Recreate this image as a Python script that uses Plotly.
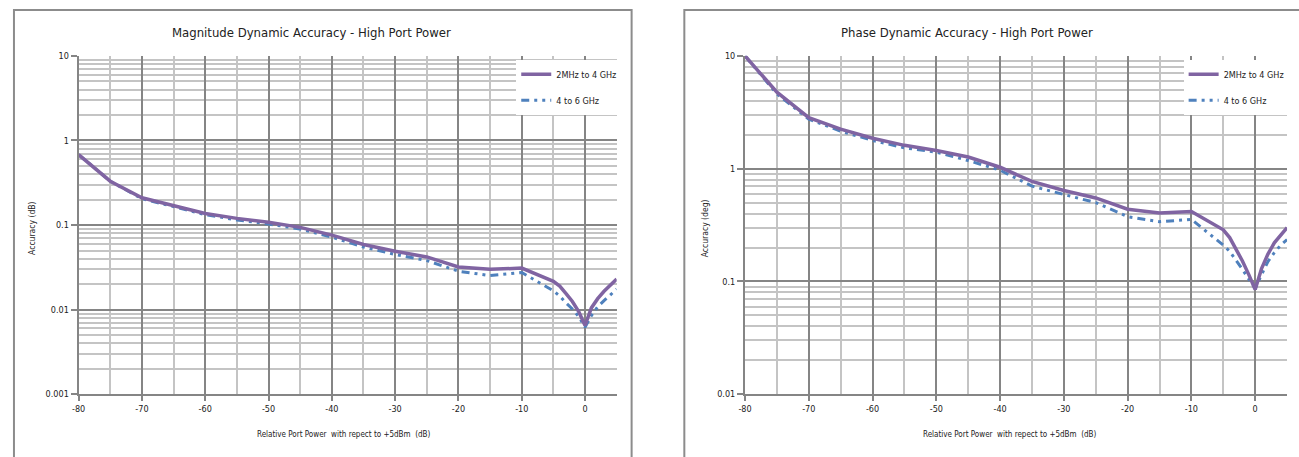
import math

import plotly.graph_objects as go
from plotly.subplots import make_subplots

# relative port power (dB) with respect to +5 dBm
power_db = [-80, -75, -70, -65, -60, -55, -50, -45, -40, -35, -30, -25, -20, -15, -10,
            -5, -4, -3, -2, -1, 0, 1, 2, 3, 4, 5]

# magnitude dynamic accuracy (dB)
mag_2mhz_4ghz = [0.68, 0.33, 0.21, 0.17, 0.137, 0.12, 0.108, 0.094, 0.076, 0.059, 0.049, 0.042, 0.032,
                 0.030, 0.031, 0.0216, 0.019, 0.0155, 0.0125, 0.0095, 0.0065, 0.0105, 0.0135, 0.0165,
                 0.0195, 0.023]
mag_4_6ghz = [0.68, 0.33, 0.205, 0.165, 0.133, 0.115, 0.103, 0.09, 0.072, 0.055, 0.045, 0.038, 0.0285,
              0.0253, 0.0275, 0.0167, 0.0145, 0.012, 0.0102, 0.0083, 0.0062, 0.0085, 0.0108, 0.0128,
              0.015, 0.0175]

# phase dynamic accuracy (deg)
phase_2mhz_4ghz = [10, 4.76, 2.83, 2.24, 1.86, 1.61, 1.45, 1.27, 1.03, 0.77, 0.64, 0.55, 0.437, 0.404,
                   0.417, 0.287, 0.245, 0.195, 0.152, 0.115, 0.085, 0.13, 0.175, 0.22, 0.26, 0.30]
phase_4_6ghz = [10, 4.6, 2.75, 2.15, 1.78, 1.53, 1.4, 1.18, 0.97, 0.70, 0.59, 0.50, 0.375, 0.339, 0.355,
                0.21, 0.185, 0.155, 0.128, 0.105, 0.087, 0.115, 0.15, 0.18, 0.21, 0.235]

series_names = ['2MHz to 4 GHz', '4 to 6 GHz']
x_ticks = [-80, -70, -60, -50, -40, -30, -20, -10, 0]
x_ticktext = ['-80', '-70', '-60', '-50', '-40', '-30', '-20', '-10', '0']
mag_ticks = [0.001, 0.01, 0.1, 1, 10]
mag_ticktext = ['0.001', '0.01', '0.1', '1', '10']
phase_ticks = [0.01, 0.1, 1, 10]
phase_ticktext = ['0.01', '0.1', '1', '10']

FONT = 'Liberation Sans Narrow, DejaVu Sans Condensed, Arial Narrow, Liberation Sans, sans-serif'
W, H = 1299, 457
PURPLE = '#8064a2'
BLUE = '#4f81bd'
MAJOR = '#858585'
MINOR = '#c4c4c4'


def px(x):
    return x / W


def py(y):
    return 1 - y / H


def accuracy_panel(fig, col, y_wide, y_high, legend, ticks, ticktext):
    """one Excel style log chart of dynamic accuracy"""
    # blue first so that the purple line sits on top
    fig.add_trace(go.Scatter(x=power_db, y=y_high, mode='lines', name=series_names[1],
                             line=dict(color=BLUE, width=3, dash='8px,5px,3px,5px,3px,5px'),
                             legend=legend, legendrank=2, legendgroup='b'), row=1, col=col)
    fig.add_trace(go.Scatter(x=power_db, y=y_wide, mode='lines', name=series_names[0],
                             line=dict(color=PURPLE, width=3.5),
                             legend=legend, legendrank=1, legendgroup='a'), row=1, col=col)

    fig.update_xaxes(range=[-80, 5], tickvals=x_ticks, ticktext=x_ticktext,
                     showgrid=True, gridcolor=MAJOR, gridwidth=2,
                     minor=dict(tick0=0, dtick=5, showgrid=True, gridcolor=MINOR, gridwidth=2),
                     showline=True, linecolor=MAJOR, linewidth=2, ticks='outside', ticklen=5,
                     tickcolor=MAJOR, tickwidth=1.5, zeroline=False,
                     tickfont=dict(size=9, color='#222'), row=1, col=col)
    fig.update_yaxes(type='log', range=[math.log10(ticks[0]), math.log10(ticks[-1])],
                     tickvals=ticks, ticktext=ticktext, showgrid=True, gridcolor=MAJOR, gridwidth=2,
                     minor=dict(dtick='D1', showgrid=True, gridcolor=MINOR, gridwidth=1.5),
                     showline=True, linecolor=MAJOR, linewidth=2, ticks='outside', ticklen=6,
                     tickcolor=MAJOR, tickwidth=1.5, zeroline=False,
                     tickfont=dict(size=9, color='#222'), row=1, col=col)
    return fig


fig = make_subplots(rows=1, cols=2)
accuracy_panel(fig, 1, mag_2mhz_4ghz, mag_4_6ghz, 'legend', mag_ticks, mag_ticktext)
accuracy_panel(fig, 2, phase_2mhz_4ghz, phase_4_6ghz, 'legend2', phase_ticks, phase_ticktext)

# plot areas in pixels of the 1299x457 page
fig.update_layout(
    xaxis=dict(domain=[px(72), px(613)]),
    xaxis2=dict(domain=[px(742), px(1287)]),
    yaxis=dict(domain=[py(398), py(52)]),
    yaxis2=dict(domain=[py(398), py(52)]),
)

legend_style = dict(bgcolor='white', borderwidth=0, font=dict(family=FONT, size=9, color='#222'),
                    yanchor='top', xanchor='left', tracegroupgap=7, itemwidth=30)
fig.update_layout(
    legend=dict(legend_style, x=px(512), y=py(56)),
    legend2=dict(legend_style, x=px(1183), y=py(56)),
)

# chart borders
for x0, x1 in [(px(7), px(628)), (px(681), 1.1)]:
    fig.add_shape(type='rect', xref='paper', yref='paper', x0=x0, x1=x1, y0=-0.1, y1=py(5),
                  line=dict(color='#8c8c8c', width=2), fillcolor='rgba(0,0,0,0)', layer='below')

titles = [
    ('Magnitude Dynamic Accuracy - High Port Power', 306, 28, 13, 0),
    ('Phase Dynamic Accuracy - High Port Power', 965, 28, 13, 0),
    ('Accuracy (dB)', 25, 228, 8.5, -90),
    ('Accuracy (deg)', 702, 228, 8.5, -90),
    ('Relative Port Power  with repect to +5dBm  (dB)', 338, 439, 8, 0),
    ('Relative Port Power  with repect to +5dBm  (dB)', 1008, 439, 8, 0),
]
for text, x, y, size, angle in titles:
    fig.add_annotation(text=text, x=px(x), y=py(y), xref='paper', yref='paper', showarrow=False,
                       textangle=angle, xanchor='center', yanchor='middle',
                       font=dict(family=FONT, size=size, color='#222'))

fig.update_layout(
    width=W, height=H, autosize=False,
    margin=dict(l=0, r=0, t=0, b=0),
    paper_bgcolor='white', plot_bgcolor='white',
    font=dict(family=FONT, size=9, color='#222'),
    showlegend=True,
)

# no page margin, so the figure fills the 1299x457 window exactly
fig.write_html("out.html", config={'displayModeBar': False},
               post_script="document.body.style.margin='0';"
                           "document.body.style.overflow='hidden';")
